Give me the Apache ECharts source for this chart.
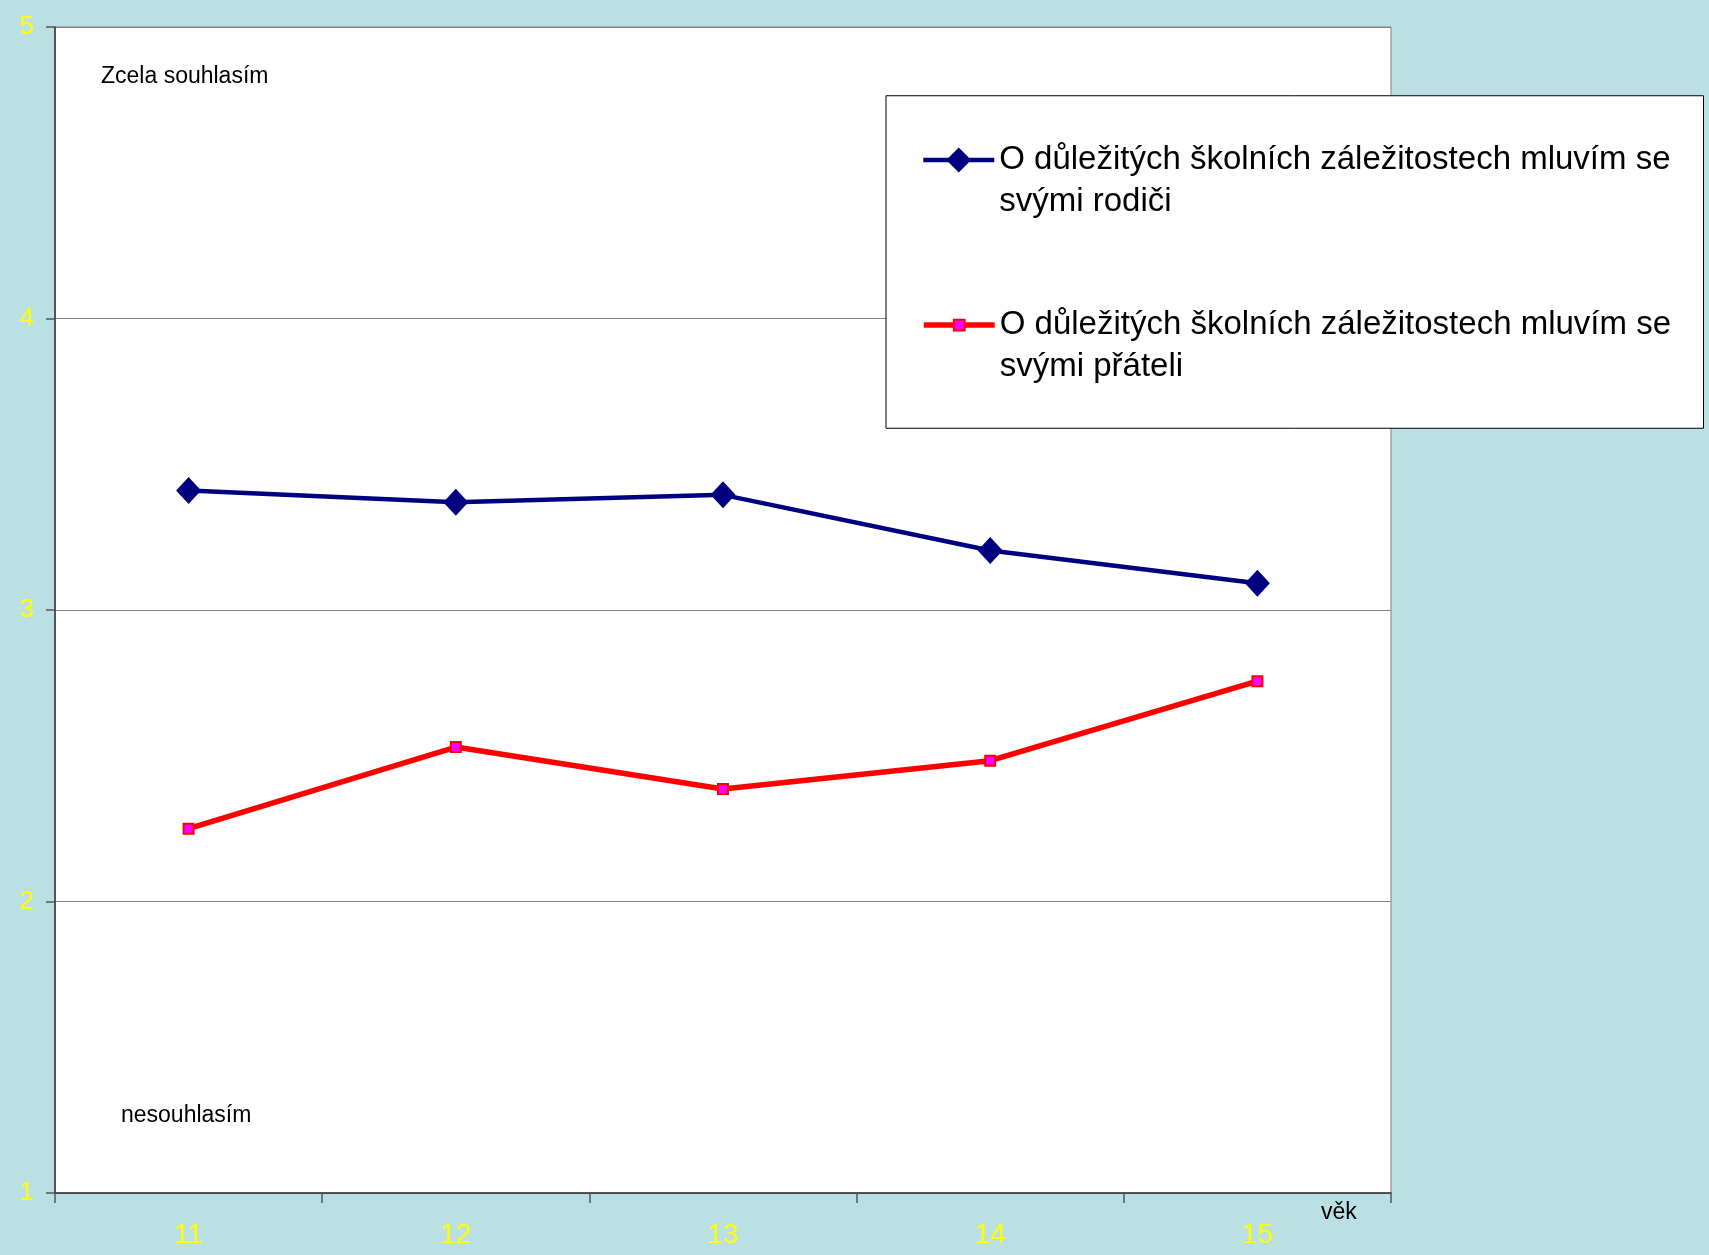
<!DOCTYPE html>
<html>
<head>
<meta charset="utf-8">
<script src="https://cdn.jsdelivr.net/npm/echarts@6/dist/echarts.min.js"></script>
<style>
html,body{margin:0;padding:0;background:#BBE0E3;}
#c{width:1709px;height:1255px;}
</style>
</head>
<body>
<div id="c"></div>
<script>
const categories = ['11', '12', '13', '14', '15'];
const parentsName = 'O důležitých školních záležitostech mluvím se svými rodiči';
const friendsName = 'O důležitých školních záležitostech mluvím se svými přáteli';
const parentsValues = [3.41, 3.37, 3.395, 3.204, 3.092];
const friendsValues = [2.25, 2.53, 2.386, 2.483, 2.756];
const yMin = 1, yMax = 5, yStep = 1;
const topLabel = 'Zcela souhlasím';
const bottomLabel = 'nesouhlasím';
const xName = 'věk';

const FONT = 'Liberation Sans, Arial, sans-serif';
const chart = echarts.init(document.getElementById('c'));
// leading empty line puts the first text line level with the legend icon
const wrap = n => '\n' + n.replace(' se svými', ' se\nsvými');
const LH = 41.5;

chart.setOption({
  animation: false,
  backgroundColor: '#BBE0E3',
  textStyle: { fontFamily: FONT },
  grid: {
    left: 55, right: 318, top: 27, bottom: 62,
    show: true, backgroundColor: '#ffffff', borderColor: '#808080', borderWidth: 1
  },
  xAxis: {
    type: 'category',
    data: categories,
    boundaryGap: true,
    axisLine: { lineStyle: { color: '#333333', width: 1.5 } },
    axisTick: { show: true, length: 10, inside: false, alignWithLabel: false, lineStyle: { color: '#555555', width: 1.5 } },
    axisLabel: { color: '#FFFF00', fontSize: 28, margin: 28, fontFamily: FONT }
  },
  yAxis: {
    type: 'value',
    min: yMin, max: yMax, interval: yStep,
    axisLine: { show: true, lineStyle: { color: '#333333', width: 1.5 } },
    axisTick: { show: true, length: 9, lineStyle: { color: '#555555', width: 1.5 } },
    axisLabel: { color: '#FFFF00', fontSize: 26, margin: 21, fontFamily: FONT },
    splitLine: { show: true, lineStyle: { color: '#808080', width: 1 } }
  },
  legend: [
    {
      data: [parentsName],
      orient: 'vertical',
      left: 886, top: 95.75,
      padding: [2, 33, 206, 35],
      backgroundColor: '#ffffff',
      borderColor: '#000000', borderWidth: 1,
      itemWidth: 71, itemHeight: 31,
      formatter: wrap,
      selectedMode: false,
      lineStyle: { width: 4.5 },
      textStyle: { fontSize: 33, lineHeight: LH, color: '#000', fontFamily: FONT }
    },
    {
      data: [friendsName],
      orient: 'vertical',
      left: 886, top: 262.8,
      padding: [0, 0, 0, 35],
      itemWidth: 71, itemHeight: 13.5,
      formatter: wrap,
      selectedMode: false,
      lineStyle: { width: 5.5 },
      textStyle: { fontSize: 33, lineHeight: LH, color: '#000', fontFamily: FONT }
    }
  ],
  graphic: [
    { type: 'text', left: 101, top: 65, style: { text: topLabel, fontSize: 23, fill: '#000', fontFamily: FONT } },
    { type: 'text', left: 121, top: 1104, style: { text: bottomLabel, fontSize: 23, fill: '#000', fontFamily: FONT } },
    { type: 'text', left: 1321, top: 1201, style: { text: xName, fontSize: 23, fill: '#000', fontFamily: FONT } }
  ],
  series: [
    {
      name: parentsName,
      type: 'line',
      data: parentsValues,
      symbol: 'diamond',
      symbolSize: [25, 27],
      lineStyle: { color: '#000080', width: 4.5 },
      itemStyle: { color: '#000080' }
    },
    {
      name: friendsName,
      type: 'line',
      data: friendsValues,
      symbol: 'rect',
      symbolSize: 10,
      lineStyle: { color: '#FF0000', width: 5.5 },
      itemStyle: { color: '#FF00FF', borderColor: '#FF0000', borderWidth: 2 }
    }
  ]
});
</script>
</body>
</html>
